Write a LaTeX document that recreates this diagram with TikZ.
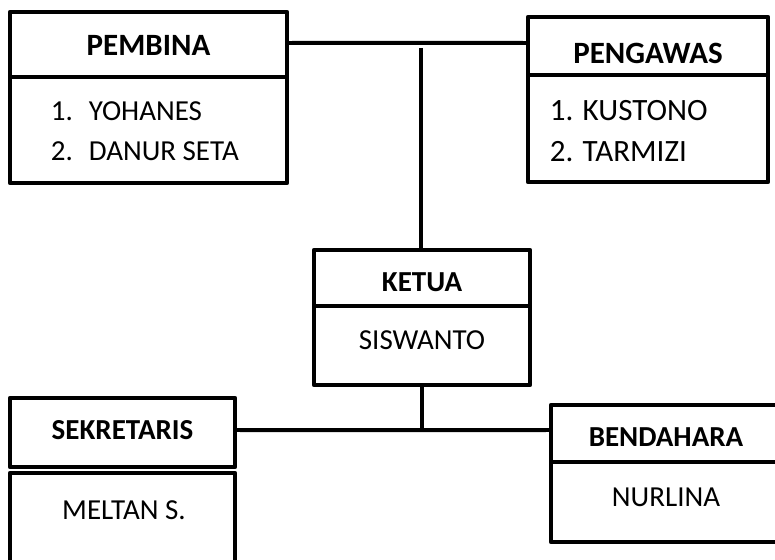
\documentclass[tikz,border=0pt]{standalone}
\usepackage{fontspec}
\setmainfont{Carlito}
\usetikzlibrary{positioning}
\tikzstyle{kotak}=[draw, line width=4.7pt, line join=round, inner sep=0]
\tikzstyle{judul}=[font=\bfseries\fontsize{29}{35}\selectfont, inner sep=0]
\tikzstyle{atas}=[font=\bfseries\fontsize{31}{37}\selectfont, inner sep=0]
\tikzstyle{isi}=[font=\fontsize{29}{40}\selectfont, inner sep=0, align=left]
\tikzstyle{garis}=[line width=4.7pt]
\tikzstyle{bayang}=[line width=5pt, black!12, yshift=-4.5pt]
\begin{document}
\begin{tikzpicture}[x=1pt, y=-1pt]
            \useasboundingbox (0,0) rectangle (775,559);
            \clip (0,0) rectangle (775,559);
            % kotak-kotak
            \node[kotak, minimum width=277pt, minimum height=65pt] (pembina) at (148.5,44.5) {};
            \node[kotak, minimum width=277pt, minimum height=106pt] (pembinaisi) at (148.5,130) {};
            \node[kotak, minimum width=240pt, minimum height=58pt] (pengawas) at (648,46) {};
            \node[kotak, minimum width=240pt, minimum height=107pt] (pengawasisi) at (648,128.5) {};
            \node[kotak, minimum width=216pt, minimum height=56pt] (ketua) at (422,278) {};
            \node[kotak, minimum width=216pt, minimum height=79pt] (ketuaisi) at (422,345.5) {};
            \node[kotak, minimum width=225pt, minimum height=69pt] (sekretaris) at (122.5,432.5) {};
            \node[kotak, minimum width=225pt, minimum height=120pt] (sekretarisisi) at (122.5,533) {};
            \node[kotak, minimum width=230pt, minimum height=57pt] (bendahara) at (666,433.5) {};
            \node[kotak, minimum width=230pt, minimum height=80pt] (bendaharaisi) at (666,502) {};
            % tulisan
            \node[atas] (pembinajudul) at ([yshift=-1pt]pembina.center) {PEMBINA};
            \node[isi, anchor=west] (pembinanama) at ([xshift=43pt, yshift=-52pt]pembina.south west)
                {\makebox[38pt][l]{1.}YOHANES\\\makebox[38pt][l]{2.}DANUR SETA};
            \node[atas] (pengawasjudul) at ([yshift=-7pt]pengawas.center) {PENGAWAS};
            \node[isi, font=\fontsize{31}{41}\selectfont, anchor=west] (pengawasnama)
                at ([xshift=24pt, yshift=-53.5pt]pengawas.south west) {1. KUSTONO\\2. TARMIZI};
            \node[judul] (ketuajudul) at ([yshift=-4pt]ketua.center) {KETUA};
            \node[isi] (ketuanama) at ([yshift=-32pt]ketua.south) {SISWANTO};
            \node[judul] (sekretarisjudul) at ([yshift=2pt]sekretaris.center) {SEKRETARIS};
            \node[isi] (sekretarisnama) at ([xshift=1.5pt, yshift=-41pt]sekretaris.south) {MELTAN S.};
            \node[judul] (bendaharajudul) at ([yshift=-4pt]bendahara.center) {BENDAHARA};
            \node[isi] (bendaharanama) at ([yshift=-32.5pt]bendahara.south) {NURLINA};
            % garis penghubung
            \coordinate (simpulatas) at (421,48);
            \coordinate (simpulbawah) at (422,430);
            \coordinate (garisatas) at (287,43);
            \draw[bayang] ([xshift=3pt]pembina.east |- garisatas) -- ([xshift=-3pt]pengawas.west |- garisatas);
            \draw[bayang] ([xshift=3pt]sekretaris.east |- simpulbawah) -- ([xshift=-3pt]bendahara.west |- simpulbawah);
            \draw[garis] (pembina.east |- garisatas) -- (pengawas.west |- garisatas);
            \draw[garis] (simpulatas) -- (simpulatas |- ketua.north);
            \draw[garis] (ketuaisi.south) -- (simpulbawah);
            \draw[garis] (sekretaris.east |- simpulbawah) -- (bendahara.west |- simpulbawah);
        \end{tikzpicture}
\end{document}
